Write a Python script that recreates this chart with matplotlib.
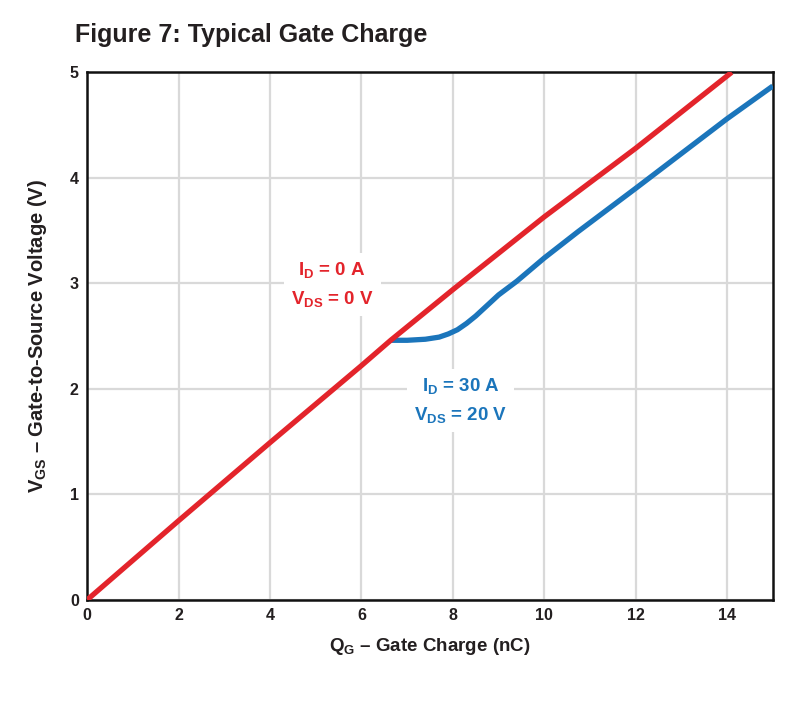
import matplotlib
matplotlib.use("Agg")
import matplotlib.pyplot as plt

# Data
red_q = [0, 2, 4, 6, 6.64, 8, 10, 12, 14.1]
red_v = [0, 0.75, 1.49, 2.22, 2.46, 2.94, 3.63, 4.28, 5.0]
blue_q = [6.64, 7.0, 7.4, 7.7, 7.9, 8.1, 8.3, 8.5, 8.75, 9.0, 9.4, 10, 10.74, 12, 14, 15]
blue_v = [2.46, 2.46, 2.47, 2.49, 2.52, 2.56, 2.62, 2.69, 2.79, 2.89, 3.02, 3.24, 3.49, 3.90, 4.56, 4.87]
x_ticks = [0, 2, 4, 6, 8, 10, 12, 14]
y_ticks = [0, 1, 2, 3, 4, 5]

fam = ["Liberation Sans", "DejaVu Sans"]
plt.rcParams['font.family'] = fam
plt.rcParams['mathtext.fontset'] = 'custom'
plt.rcParams['mathtext.rm'] = 'Liberation Sans:bold'
plt.rcParams['mathtext.it'] = 'Liberation Sans:bold'
plt.rcParams['mathtext.bf'] = 'Liberation Sans:bold'

RED = "#e3242b"
BLUE = "#1b75bb"
TXT = "#231f20"

fig = plt.figure(figsize=(8, 7.09), dpi=100)
ax = fig.add_axes([0.109, 0.154, 0.857, 0.744])

ax.plot(blue_q, blue_v, color=BLUE, lw=3.8, solid_capstyle='butt', solid_joinstyle='round', zorder=3)
ax.plot(red_q, red_v, color=RED, lw=3.8, solid_capstyle='butt', solid_joinstyle='round', zorder=4)

ax.set_xlim(0, 15)
ax.set_ylim(0, 5)
ax.set_xticks(x_ticks)
ax.set_yticks(y_ticks)
ax.grid(True, color="#d9d9d9", lw=1.6)
ax.set_axisbelow(True)
ax.tick_params(length=0, labelsize=11.5, colors=TXT, pad=6)
for lab in ax.get_xticklabels() + ax.get_yticklabels():
    lab.set_fontweight('bold')
for s in ax.spines.values():
    s.set_linewidth(1.8)
    s.set_color("#111111")

ax.set_xlabel(r"Q$_\mathregular{G}$ – Gate Charge (nC)", fontsize=13.5, fontweight='bold', color=TXT, labelpad=9)
ax.set_ylabel(r"V$_\mathregular{GS}$ – Gate-to-Source Voltage (V)", fontsize=14.5, fontweight='bold', color=TXT, labelpad=15)

fig.text(0.094, 0.95, "Figure 7: Typical Gate Charge", fontsize=18, fontweight='bold', color=TXT, ha='left', va='center')

ax.text(5.36, 2.99, "I$_\\mathregular{D}$ = 0 A\nV$_\\mathregular{DS}$ = 0 V", color=RED, fontsize=13.5,
        fontweight='bold', ha='center', va='center', linespacing=1.6,
        bbox=dict(facecolor='white', edgecolor='none', pad=5), zorder=5)
ax.text(8.17, 1.89, "I$_\\mathregular{D}$ = 30 A\nV$_\\mathregular{DS}$ = 20 V", color=BLUE, fontsize=13.5,
        fontweight='bold', ha='center', va='center', linespacing=1.6,
        bbox=dict(facecolor='white', edgecolor='none', pad=5), zorder=5)

fig.savefig("out.png", dpi=100)
